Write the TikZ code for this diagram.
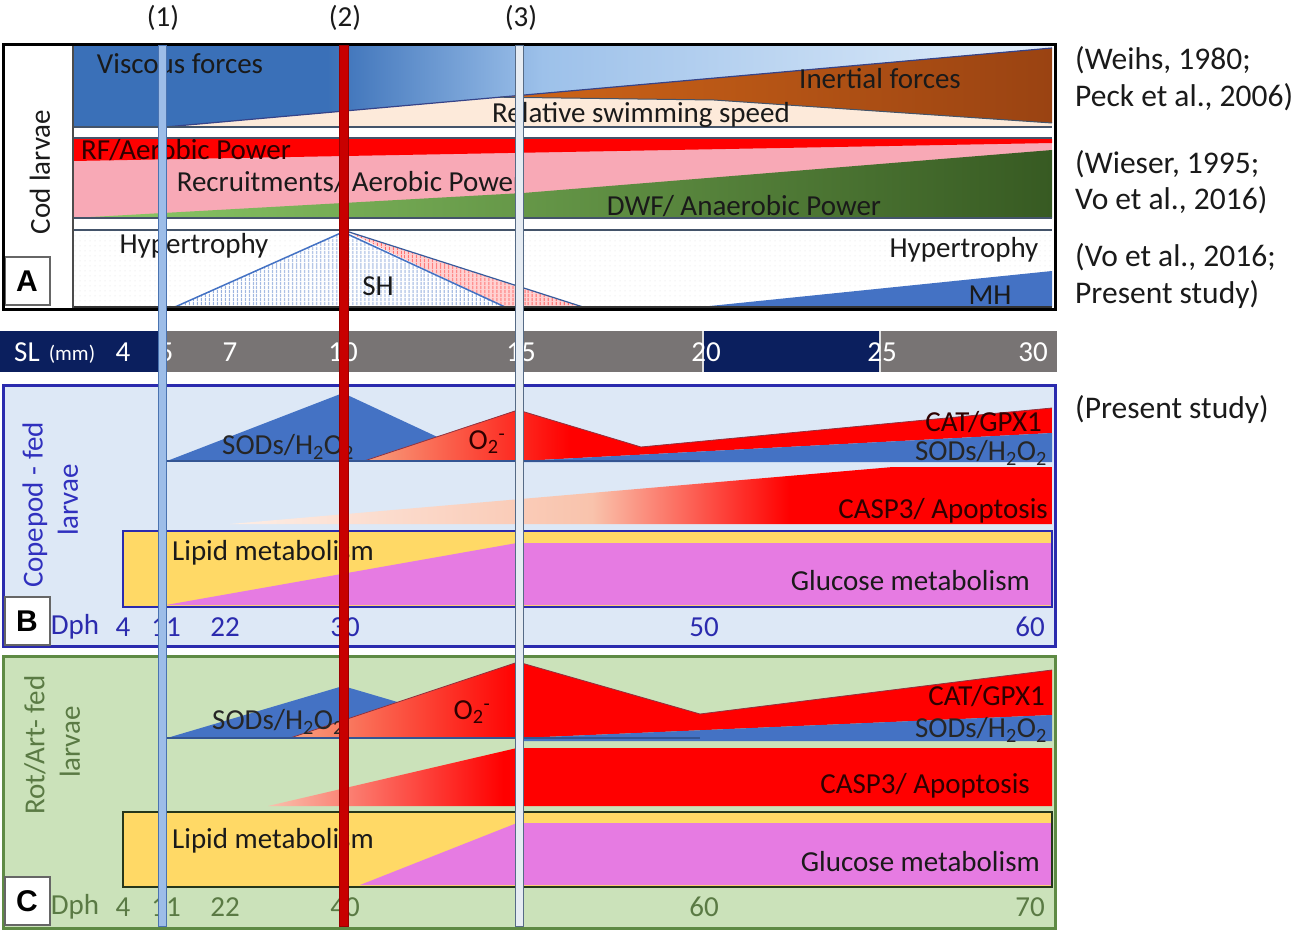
\documentclass[tikz,border=0pt]{standalone}
\usepackage{fontspec}
\setmainfont{Carlito}
\newfontfamily\panelfont{Liberation Sans}
\usetikzlibrary{patterns,patterns.meta}

\definecolor{vb1}{HTML}{3A70B8}
\definecolor{vb2}{HTML}{9DC1EA}
\definecolor{vb3}{HTML}{E2EEFA}
\definecolor{peach}{HTML}{FDEADA}
\definecolor{inA}{HTML}{CF6518}
\definecolor{inB}{HTML}{9A4312}
\definecolor{rfred}{HTML}{FF0000}
\definecolor{recpink}{HTML}{F8A9B6}
\definecolor{gA}{HTML}{8DCB68}
\definecolor{gB}{HTML}{375A22}
\definecolor{edgeblue}{HTML}{44546A}
\definecolor{sodblue}{HTML}{4472C4}
\definecolor{navybar}{HTML}{0B1F5E}
\definecolor{greybar}{HTML}{787474}
\definecolor{bgB}{HTML}{DDE8F6}
\definecolor{bdB}{HTML}{2B2BAE}
\definecolor{txB}{HTML}{3030BE}
\definecolor{bgC}{HTML}{CBE2BA}
\definecolor{bdC}{HTML}{5E8A44}
\definecolor{txC}{HTML}{5A7A44}
\definecolor{lipid}{HTML}{FFD966}
\definecolor{gluc}{HTML}{E67BE2}
\definecolor{salmon}{HTML}{F7A17F}
\definecolor{casBa}{HTML}{FDEEE6}
\definecolor{casBb}{HTML}{F9C3AC}
\definecolor{casCa}{HTML}{F9C2AE}
\definecolor{stripeblue}{HTML}{8AA6DA}
\definecolor{stripered}{HTML}{FF5A5A}
\definecolor{stripebg}{HTML}{FFD2D2}
\definecolor{vla}{HTML}{9DBDE8}
\definecolor{vlad}{HTML}{4A73B0}
\definecolor{vlb}{HTML}{C80000}
\definecolor{vlbd}{HTML}{9A0000}
\definecolor{vlc}{HTML}{E6ECF3}
\definecolor{vlcd}{HTML}{566B86}
\definecolor{darktx}{HTML}{1A1A1A}
\definecolor{redtx}{HTML}{2E0000}

\pgfdeclarehorizontalshading{viscous}{100bp}{color(0bp)=(vb1); color(38bp)=(vb1); color(49bp)=(vb2); color(75bp)=(vb3); color(100bp)=(vb3)}
\pgfdeclarehorizontalshading{otwo}{100bp}{color(0bp)=(salmon); color(25bp)=(salmon); color(40bp)=(rfred); color(100bp)=(rfred)}
\pgfdeclarehorizontalshading{caspB}{100bp}{color(0bp)=(casBa); color(25bp)=(casBa); color(47bp)=(casBb); color(59bp)=(rfred); color(100bp)=(rfred)}
\pgfdeclarehorizontalshading{caspC}{100bp}{color(0bp)=(casCa); color(25bp)=(casCa); color(40bp)=(rfred); color(100bp)=(rfred)}

\newcommand\mysz{\fontsize{29}{33}\selectfont}
\newcommand\refsz{\fontsize{31.5}{35}\selectfont}
\newcommand\smsz{\fontsize{21}{24}\selectfont}
\newcommand\pansz{\fontsize{30}{34}\selectfont\panelfont\bfseries}

\tikzset{
  lbl/.style={inner sep=0pt, font=\mysz, text=darktx},
  reflbl/.style={inner sep=0pt, font=\refsz, text=darktx, anchor=west},
  barlbl/.style={inner sep=0pt, font=\mysz, text=white},
  dphB/.style={inner sep=0pt, font=\mysz, text=bdB},
  dphC/.style={inner sep=0pt, font=\mysz, text=txC},
  panlbl/.style={inner sep=0pt, font=\pansz, text=black},
  rowline/.style={draw=edgeblue, line width=1.5pt},
}

\begin{document}
\begin{tikzpicture}[x=1pt, y=-1pt]
\useasboundingbox (0,0) rectangle (1299,931);
\fill[white] (0,0) rectangle (1299,931);

% ================= PANEL A =================
\fill[white] (3,45) rectangle (1055,309);
% row 1
\fill[peach] (73,46) rectangle (1052,127);
\shade[shading=viscous] (73,46) -- (1052,46) -- (1052,48) -- (165,127) -- (73,127) -- cycle;
\shade[left color=inA, right color=inB] (500,97.2) -- (1052,48) -- (1052,123) -- (714,100) -- cycle;
\draw[edgeblue!80!blue, line width=1.2pt] (165,127) -- (1052,48);
\draw[edgeblue, line width=1pt] (500,97.2) -- (714,100) -- (1052,123);
% row 2
\fill[recpink] (73,138) rectangle (1052,218);
\fill[rfred] (73,139) -- (1052,139) -- (1052,143) -- (73,161) -- cycle;
\shade[left color=gA, right color=gB] (73,218) -- (523,193) -- (1052,150) -- (1052,218) -- cycle;
% row 3
\fill[white] (73,230) rectangle (1052,307);
\fill[pattern={Dots[distance=5pt,radius=0.5pt]}, pattern color=black!13] (73,230) rectangle (1052,307);
\fill[white] (175,307) -- (343,232) -- (505,307) -- cycle;
\fill[pattern={Lines[angle=90,distance=4pt,line width=1.3pt]}, pattern color=stripeblue] (175,307) -- (343,232) -- (505,307) -- cycle;
\fill[stripebg] (346,231) -- (583,307) -- (505,307) -- cycle;
\fill[pattern={Lines[angle=90,distance=4pt,line width=1.5pt]}, pattern color=stripered] (346,231) -- (583,307) -- (505,307) -- cycle;
\draw[sodblue, line width=1.5pt] (175,307) -- (343,232) -- (505,307);
\draw[sodblue!80!black, line width=1.2pt] (346,231) -- (583,307);
\fill[sodblue] (700,307) -- (1052,271) -- (1052,307) -- cycle;
% row lines
\draw[rowline] (73,127) -- (1052,127);
\draw[rowline] (73,138) -- (1052,138);
\draw[rowline] (73,218) -- (1052,218);
\draw[rowline] (73,230) -- (1052,230);
\draw[black!80, line width=2pt] (73,307) -- (1052,307);
\draw[black!70, line width=2pt] (73,45) -- (73,309);
\draw[black!60, line width=1.5pt, fill=white] (5,257) rectangle (50,305);
\draw[black, line width=3pt] (3,45) rectangle (1055,309);

\node[panlbl] (labA) at (27,281) {A};
\node[lbl, rotate=90] (codl) at (40,172) {Cod larvae};
\node[lbl] (visc) at (180,64) {Viscous forces};
\node[lbl] (iner) at (880,79) {Inertial forces};
\node[lbl] (rss) at (641,115) {Relative swimming speed};
\node[lbl, text=redtx] (rfap) at (186,150) {RF/Aerobic Power};
\node[lbl] (recr) at (350,182) {Recruitments/ Aerobic Power};
\node[lbl] (dwf) at (744,206) {DWF/ Anaerobic Power};
\node[lbl] (hypl) at (194,246) {Hypertrophy};
\node[lbl] (hypr) at (964,250) {Hypertrophy};
\node[lbl] (sh) at (378,286) {SH};
\node[lbl] (mh) at (990,295) {MH};

% references
\node[reflbl] (r1) at (1075,60) {(Weihs, 1980;};
\node[reflbl] (r2) at (1075,97) {Peck et al., 2006)};
\node[reflbl] (r3) at (1075,164) {(Wieser, 1995;};
\node[reflbl] (r4) at (1075,200) {Vo et al., 2016)};
\node[reflbl] (r5) at (1075,257) {(Vo et al., 2016;};
\node[reflbl] (r6) at (1075,295) {Present study)};
\node[reflbl] (r7) at (1075,410) {(Present study)};

% ================= SL BAR =================
\fill[navybar] (0,331) rectangle (162,372);
\fill[greybar] (162,331) rectangle (703,372);
\fill[navybar] (703,331) rectangle (880,372);
\fill[greybar] (880,331) rectangle (1057,372);
\draw[white!75!gray, line width=1.5pt] (703,331) -- (703,372);
\draw[white!75!gray, line width=1.5pt] (880,331) -- (880,372);
\node[barlbl] (sl) at (27,352) {SL};
\node[barlbl, font=\smsz] (mm) at (72,354) {(mm)};
\node[barlbl] (s4) at (123,352) {4};
\node[barlbl] (s5) at (166,352) {5};
\node[barlbl] (s7) at (230,352) {7};
\node[barlbl] (s10) at (343,352) {10};
\node[barlbl] (s15) at (521,352) {15};
\node[barlbl] (s20) at (706,352) {20};
\node[barlbl] (s25) at (882,352) {25};
\node[barlbl] (s30) at (1033,352) {30};

% ================= PANEL B =================
\fill[bgB] (3,385) rectangle (1055,646);
\fill[sodblue] (167,461) -- (343,393) -- (489,461) -- cycle;
\shade[shading=otwo] (364,461) -- (518,410) -- (641,447) -- (1052,408) -- (1052,433) -- (521,461) -- cycle;
\draw[edgeblue!60!red, line width=0.8pt] (364,461) -- (518,410) -- (641,447) -- (1052,408);
\fill[sodblue] (521,461) -- (1052,433) -- (1052,462) -- (521,462) -- cycle;
\draw[sodblue!75!black, line width=1.5pt] (167,461) -- (700,461);
\shade[shading=caspB] (230,524) -- (893,467) -- (1052,467) -- (1052,524) -- cycle;
\draw[bdB, line width=2pt, fill=lipid] (123,531) rectangle (1052,607);
\fill[gluc] (166,605) -- (517,543) -- (1052,543) -- (1052,605) -- cycle;
\draw[bdB, line width=2pt] (123,531) rectangle (1052,607);
\draw[bdB, line width=3pt] (3,385) rectangle (1055,646);
\draw[black!60, line width=1.5pt, fill=white] (5,597) rectangle (50,645);

\node[panlbl] (labB) at (27,621) {B};
\node[lbl, rotate=90, text=txB] (copa) at (35,505) {Copepod - fed};
\node[lbl, rotate=90, text=txB] (copb) at (68,500) {larvae};
\node[lbl, anchor=west, text=black!85] (sodB1) at (222,447) {SODs/H\textsubscript{2}O\textsubscript{2}};
\node[lbl, text=redtx] (o2B) at (487,442) {O\textsubscript{2}\textsuperscript{-}};
\node[lbl, anchor=east, text=redtx] (catB) at (1042,422) {CAT/GPX1};
\node[lbl, anchor=east, text=black!85] (sodB2) at (1047,453) {SODs/H\textsubscript{2}O\textsubscript{2}};
\node[lbl, anchor=east, text=redtx] (caspBt) at (1048,511) {CASP3/ Apoptosis};
\node[lbl, anchor=west] (lipB) at (172,553) {Lipid metabolism};
\node[lbl, anchor=east] (gluB) at (1030,581) {Glucose metabolism};
\node[dphB] (dB) at (75,627) {Dph};
\node[dphB] (dB4) at (123,627) {4};
\node[dphB] (dB11) at (166,627) {11};
\node[dphB] (dB22) at (225,627) {22};
\node[dphB] (dB30) at (345,627) {30};
\node[dphB] (dB50) at (704,627) {50};
\node[dphB] (dB60) at (1030,627) {60};

% ================= PANEL C =================
\fill[bgC] (3,656) rectangle (1055,928);
\fill[sodblue] (167,738) -- (343,686) -- (520,738) -- cycle;
\shade[shading=otwo] (290,738) -- (518,662) -- (700,714) -- (1052,670) -- (1052,715) -- (521,738) -- cycle;
\draw[edgeblue!60!red, line width=0.8pt] (290,738) -- (518,662) -- (700,714) -- (1052,670);
\fill[sodblue] (521,738) -- (1052,715) -- (1052,741) -- (521,741) -- cycle;
\draw[sodblue!75!black, line width=1.5pt] (167,738) -- (700,738);
\shade[shading=caspC] (268,806) -- (517,748) -- (1052,748) -- (1052,806) -- cycle;
\fill[lipid] (123,812) rectangle (1052,887);
\fill[gluc] (360,885) -- (517,823) -- (1052,823) -- (1052,885) -- cycle;
\draw[black!60!bdC, line width=2pt] (123,812) rectangle (1052,887);
\draw[bdC, line width=3pt] (3,656) rectangle (1055,928);
\draw[black!60, line width=2pt, fill=white] (5,877) rectangle (50,925);

\node[panlbl] (labC) at (27,901) {C};
\node[lbl, rotate=90, text=txC] (rota) at (35,745) {Rot/Art- fed};
\node[lbl, rotate=90, text=txC] (rotb) at (70,742) {larvae};
\node[lbl, anchor=west, text=black!85] (sodC1) at (212,722) {SODs/H\textsubscript{2}O\textsubscript{2}};
\node[lbl, text=redtx] (o2C) at (472,712) {O\textsubscript{2}\textsuperscript{-}};
\node[lbl, anchor=east, text=redtx] (catC) at (1045,696) {CAT/GPX1};
\node[lbl, anchor=east, text=black!85] (sodC2) at (1047,730) {SODs/H\textsubscript{2}O\textsubscript{2}};
\node[lbl, anchor=east, text=redtx] (caspCt) at (1030,786) {CASP3/ Apoptosis};
\node[lbl, anchor=west] (lipC) at (172,841) {Lipid metabolism};
\node[lbl, anchor=east] (gluC) at (1040,862) {Glucose metabolism};
\node[dphC] (dC) at (75,907) {Dph};
\node[dphC] (dC4) at (123,907) {4};
\node[dphC] (dC11) at (166,907) {11};
\node[dphC] (dC22) at (225,907) {22};
\node[dphC] (dC40) at (345,907) {40};
\node[dphC] (dC60) at (704,907) {60};
\node[dphC] (dC70) at (1030,907) {70};

% ================= VERTICAL MARKERS =================
\draw[fill=vla, draw=vlad, line width=1pt] (158,46) rectangle (166,926);
\draw[fill=vlb, draw=vlbd, line width=1pt] (339,46) rectangle (348,926);
\draw[fill=vlc, draw=vlcd, line width=1pt] (515,46) rectangle (523,926);
\node[lbl] (m1) at (163,18) {(1)};
\node[lbl] (m2) at (345,18) {(2)};
\node[lbl] (m3) at (521,18) {(3)};
\end{tikzpicture}
\end{document}
